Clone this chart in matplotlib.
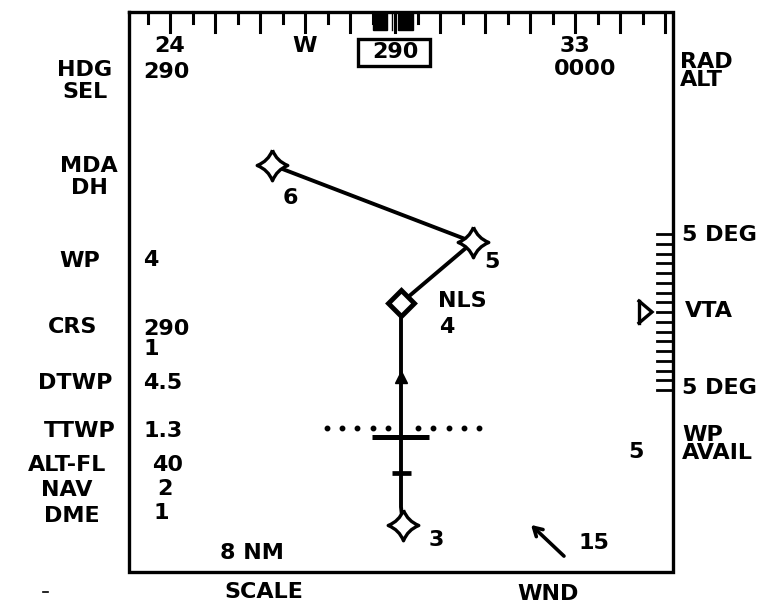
import numpy as np
import matplotlib
matplotlib.use("Agg")
import matplotlib.pyplot as plt
from matplotlib.path import Path
from matplotlib.patches import Rectangle

# ---------------- data ----------------
heading_ticks = list(range(235, 355, 5))
heading_labels = {240: "24", 270: "W", 330: "33"}
current_heading = 290
hdg_sel_value = "290"
rad_alt_value = "0000"

left_labels = ["HDG\nSEL", "MDA\nDH", "WP", "CRS", "DTWP", "TTWP", "ALT-FL", "NAV", "DME"]
left_values = ["290", "", "4", "290\n1", "4.5", "1.3", "40", "2", "1"]

# route waypoints (display map units)
wp_names = ["6", "5", "4", "3"]
wp_x = [272, 473, 401, 403]
wp_y = [165, 242, 303, 525]

vta_ticks = list(np.linspace(-5, 5, 17))
vta_value = 0.0
wp_avail = "5"
wind_speed = "15"
map_scale = "8 NM"

FONT = dict(family="DejaVu Sans", fontweight="bold", fontsize=16, color="black")

fig = plt.figure(figsize=(7.69, 6.11), dpi=100)
ax = fig.add_axes([0, 0, 1, 1])
ax.set_xlim(0, 769)
ax.set_ylim(611, 0)
ax.axis("off")

# frame
L, R, T, B = 129, 673, 12, 572
ax.plot([L, R, R, L, L], [T, T, B, B, T], color="k", lw=2.4, solid_joinstyle="miter")

# heading scale
cx, pxdeg = 395, 4.5
hx = lambda h: cx + (h - current_heading) * pxdeg
for h in heading_ticks:
    ln = 20 if h % 10 == 0 else 11
    ax.plot([hx(h), hx(h)], [T, T + ln], color="k", lw=2.2)
for h, s in heading_labels.items():
    ax.text(hx(h), 46, s, ha="center", va="center", **FONT)
ax.add_patch(Rectangle((hx(current_heading) - 22, T), 14, 18, color="k"))
ax.add_patch(Rectangle((hx(current_heading) + 3, T), 15, 18, color="k"))
ax.plot([hx(current_heading) - 3] * 2, [T, T + 18], color="k", lw=1)
ax.add_patch(Rectangle((hx(current_heading) - 37, 39), 72, 27, fc="white", ec="k", lw=2.4))
ax.text(hx(current_heading), 52, hdg_sel_value, ha="center", va="center", **FONT)
ax.text(585, 69, rad_alt_value, ha="center", va="center", **FONT)

# left labels and values
label_layout = [(85, 81), (89, 177), (80, 261), (73, 327), (75, 383),
                (80, 431), (67, 465), (67, 490), (72, 516)]
value_layout = [(143, 72), (143, 0), (143, 260), (143, 339), (143, 383),
                (143, 431), (152, 465), (157, 489), (153, 513)]
for s, (x, y) in zip(left_labels, label_layout):
    ax.text(x, y, s, ha="center", va="center", linespacing=1.1, **FONT)
for s, (x, y) in zip(left_values, value_layout):
    if s:
        ax.text(x, y, s, ha="left", va="center", linespacing=1.0, **FONT)

# right side labels
ax.text(680, 71, "RAD\nALT", ha="left", va="center", linespacing=0.85, **FONT)
ax.text(682, 235, "5 DEG", ha="left", va="center", **FONT)
ax.text(685, 311, "VTA", ha="left", va="center", **FONT)
ax.text(682, 388, "5 DEG", ha="left", va="center", **FONT)
ax.text(682, 444, "WP\nAVAIL", ha="left", va="center", linespacing=0.85, **FONT)
ax.text(636, 452, wp_avail, ha="center", va="center", **FONT)

# VTA scale
vy = lambda v: 312 - v * (390 - 234) / 10.0
for v in vta_ticks:
    ax.plot([R - 16, R], [vy(v), vy(v)], color="k", lw=2)
ax.plot([639, 652, 639], [vy(vta_value) - 11, vy(vta_value), vy(vta_value) + 11],
        color="k", lw=2.4, solid_joinstyle="miter")
ax.plot([639, 639], [vy(vta_value) - 11, vy(vta_value) + 11], color="k", lw=2.4)

# route
ax.plot(wp_x[:3], wp_y[:3], color="k", lw=2.8, zorder=2)
ax.plot([wp_x[2], wp_x[2], wp_x[3]], [wp_y[2], 507, wp_y[3]], color="k", lw=2.8, zorder=2)

verts = [(0, 1), (0.28, 0.28), (1, 0), (0.28, -0.28), (0, -1),
         (-0.28, -0.28), (-1, 0), (-0.28, 0.28), (0, 1)]
codes = [Path.MOVETO] + [Path.CURVE3] * 8
star = Path(verts, codes)
for i in (0, 1, 3):
    ax.plot(wp_x[i], wp_y[i], marker=star, ms=22, mfc="white", mec="k", mew=2.4, zorder=4)
ax.plot(wp_x[2], wp_y[2], marker="D", ms=13, mfc="white", mec="k", mew=3.5, zorder=4)

ax.text(290, 198, wp_names[0], ha="center", va="center", **FONT)
ax.text(492, 262, wp_names[1], ha="center", va="center", **FONT)
ax.text(462, 301, "NLS", ha="center", va="center", **FONT)
ax.text(447, 327, wp_names[2], ha="center", va="center", **FONT)
ax.text(436, 540, wp_names[3], ha="center", va="center", **FONT)

# aircraft symbol / track
ax.plot(401, 377, marker="^", ms=9, color="k", zorder=5)
dots = [x for x in np.arange(327, 480, 15.2) if abs(x - 401) > 8]
ax.plot(dots, [428] * len(dots), "o", color="k", ms=3.2, lw=0)
ax.plot([372, 429], [437, 437], color="k", lw=3.6, solid_capstyle="butt")
ax.plot([392, 411], [473, 473], color="k", lw=3.4, solid_capstyle="butt")

# wind
ax.annotate("", xy=(529, 523), xytext=(566, 558),
            arrowprops=dict(arrowstyle="->,head_length=0.6,head_width=0.35", color="k", lw=2.6))
ax.text(594, 543, wind_speed, ha="center", va="center", **FONT)

# bottom labels
ax.text(252, 553, map_scale, ha="center", va="center", **FONT)
ax.text(264, 592, "SCALE", ha="center", va="center", **FONT)
ax.text(548, 594, "WND", ha="center", va="center", **FONT)
ax.plot([43, 48], [592, 592], color="k", lw=1.2)

fig.savefig("out.png", dpi=100, facecolor="white")
